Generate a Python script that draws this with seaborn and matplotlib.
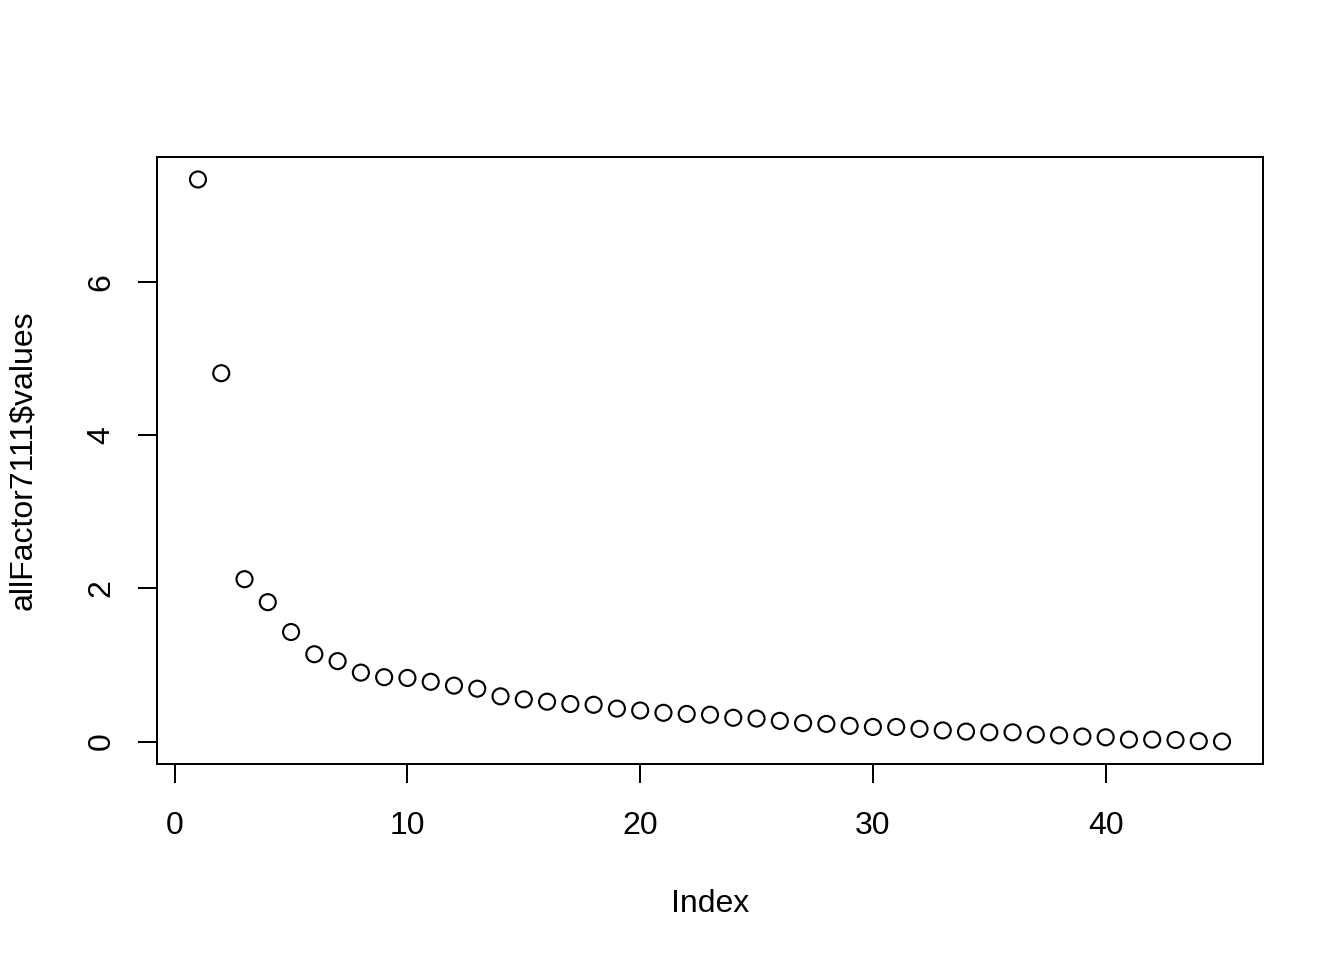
import numpy as np
import pandas as pd
import matplotlib
matplotlib.use("Agg")
import matplotlib.pyplot as plt
import seaborn as sns

# eigenvalues, one per factor index
index = list(range(1, 46))
values = [7.34, 4.81, 2.12, 1.82, 1.43, 1.14, 1.05, 0.90, 0.84, 0.83,
          0.78, 0.73, 0.69, 0.59, 0.55, 0.52, 0.49, 0.48, 0.43, 0.405,
          0.375, 0.36, 0.35, 0.31, 0.30, 0.27, 0.24, 0.23, 0.205, 0.19,
          0.19, 0.165, 0.145, 0.13, 0.12, 0.12, 0.09, 0.08, 0.065, 0.055,
          0.025, 0.025, 0.02, 0.005, 0.0]
x_ticks = [0, 10, 20, 30, 40]
y_ticks = [0, 2, 4, 6]

df = pd.DataFrame({"Index": index, "values": values})

sns.set_style("ticks")
plt.rcParams["font.family"] = ["Liberation Sans", "DejaVu Sans"]
plt.rcParams["font.size"] = 12

fig = plt.figure(figsize=(7, 5), dpi=192)
ax = fig.add_axes([157 / 1344, 1 - 764 / 960, (1263 - 157) / 1344, (764 - 157) / 960])

sns.scatterplot(data=df, x="Index", y="values", ax=ax, marker="o", s=36,
                facecolor="none", edgecolor="black", linewidth=0.8)

# R-style 4% padding around the data range
xr = max(index) - min(index)
yr = max(values) - min(values)
ax.set_xlim(min(index) - 0.04 * xr, max(index) + 0.04 * xr)
ax.set_ylim(min(values) - 0.04 * yr, max(values) + 0.04 * yr)

ax.set_xticks(x_ticks)
ax.set_yticks(y_ticks)
ax.set_yticklabels([str(t) for t in y_ticks], rotation=90, va="center")
ax.tick_params(axis="both", direction="out", length=7.2, width=0.75,
               color="black", labelsize=12, labelcolor="black")
ax.tick_params(axis="x", pad=10.5)
ax.tick_params(axis="y", pad=8)
for sp in ax.spines.values():
    sp.set_linewidth(0.75)
    sp.set_color("black")

ax.set_xlabel("Index", fontsize=12, labelpad=18, color="black")
ax.set_ylabel(r"allFactor7111\$values", fontsize=12, labelpad=18, color="black")
ax.grid(False)

fig.savefig("out.png", dpi=192, facecolor="white")
